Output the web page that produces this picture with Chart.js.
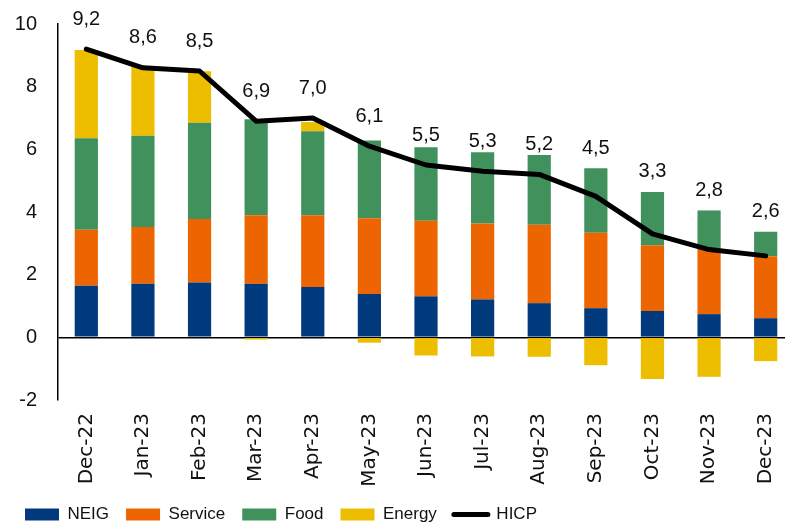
<!DOCTYPE html>
<html>
<head>
<meta charset="utf-8">
<script src="https://cdn.jsdelivr.net/npm/chart.js@4.4.1/dist/chart.umd.min.js"></script>
<style>
  html, body { margin: 0; padding: 0; background: #fff; overflow: hidden; }
  #wrap { position: relative; width: 800px; height: 533px; }
</style>
</head>
<body>
<div id="wrap"><canvas id="c"></canvas></div>
<script>
const categories = ['Dec-22','Jan-23','Feb-23','Mar-23','Apr-23','May-23','Jun-23','Jul-23','Aug-23','Sep-23','Oct-23','Nov-23','Dec-23'];
const neig    = [1.65, 1.71, 1.75, 1.71, 1.61, 1.38, 1.31, 1.21, 1.09, 0.93, 0.84, 0.74, 0.61];
const service = [1.78, 1.81, 2.03, 2.19, 2.29, 2.42, 2.41, 2.42, 2.50, 2.41, 2.10, 2.08, 1.98];
const food    = [2.92, 2.91, 3.07, 3.06, 2.68, 2.48, 2.35, 2.28, 2.23, 2.06, 1.70, 1.23, 0.78];
const energy  = [2.82, 2.21, 1.64, -0.07, 0.29, -0.17, -0.58, -0.61, -0.62, -0.89, -1.33, -1.26, -0.76];
const hicp    = [9.2, 8.6, 8.5, 6.9, 7.0, 6.1, 5.5, 5.3, 5.2, 4.5, 3.3, 2.8, 2.6];
const yTicks  = [-2, 0, 2, 4, 6, 8, 10];

const hFont = "'Liberation Sans', Arial, sans-serif";
const vFont = "'DejaVu Sans', sans-serif";

const labelPlugin = {
  id: 'hicpLabels',
  afterDatasetsDraw(chart) {
    const ctx = chart.ctx;
    const xs = chart.scales.x, ys = chart.scales.y;
    ctx.save();
    ctx.font = '20px ' + hFont;
    ctx.fillStyle = '#111';
    ctx.textAlign = 'center';
    ctx.textBaseline = 'middle';
    hicp.forEach((v, i) => {
      const pointY = ys.getPixelForValue(v);
      const pos = neig[i] + service[i] + food[i] + Math.max(energy[i], 0);
      const barTop = ys.getPixelForValue(pos);
      let y = pointY - 30;
      if (y + 7 > barTop) y = barTop - 20;
      ctx.fillText(v.toFixed(1).replace('.', ','), xs.getPixelForValue(i), y);
    });
    ctx.restore();
  }
};

const barCommon = { type: 'bar', stack: 'comp', borderWidth: 0, categoryPercentage: 1, barPercentage: 0.41 };

new Chart(document.getElementById('c'), {
  data: {
    labels: categories,
    datasets: [
      Object.assign({ label: 'NEIG', data: neig, backgroundColor: '#003A7C' }, barCommon),
      Object.assign({ label: 'Service', data: service, backgroundColor: '#EC6500' }, barCommon),
      Object.assign({ label: 'Food', data: food, backgroundColor: '#41915C' }, barCommon),
      Object.assign({ label: 'Energy', data: energy, backgroundColor: '#EDBE00' }, barCommon),
      { type: 'line', label: 'HICP', data: hicp, stack: 'hicp', order: -1,
        borderColor: '#000', borderWidth: 5, borderCapStyle: 'round', borderJoinStyle: 'round',
        pointRadius: 0, pointHoverRadius: 0, tension: 0, fill: false }
    ]
  },
  options: {
    responsive: true,
    maintainAspectRatio: false,
    animation: false,
    layout: { padding: { top: 24, left: 8, right: 6, bottom: 0 } },
    plugins: {
      tooltip: { enabled: false },
      legend: {
        position: 'bottom',
        align: 'start',
        labels: {
          font: { family: hFont, size: 17 },
          color: '#111',
          usePointStyle: true,
          pointStyleWidth: 34,
          boxWidth: 34,
          boxHeight: 12,
          padding: 17,
          sort: (a, b) => a.datasetIndex - b.datasetIndex,
          generateLabels: (chart) => {
            const items = Chart.defaults.plugins.legend.labels.generateLabels(chart);
            items.forEach(it => {
              if (it.datasetIndex === 4) {
                it.pointStyle = 'line'; it.lineWidth = 5; it.strokeStyle = '#000'; it.lineCap = 'round';
              } else {
                it.pointStyle = 'rect'; it.lineWidth = 0;
              }
            });
            return items;
          }
        }
      }
    },
    scales: {
      x: {
        stacked: true,
        offset: true,
        grid: { display: false },
        border: { display: false },
        ticks: {
          font: { family: vFont, size: 20 },
          color: '#111',
          minRotation: 90,
          maxRotation: 90,
          padding: 5,
          autoSkip: false
        },
        afterFit: s => { s.height = 89; }
      },
      y: {
        stacked: true,
        min: -2,
        max: 10,
        afterBuildTicks: s => { s.ticks = yTicks.map(v => ({ value: v })); },
        grid: {
          drawTicks: false,
          lineWidth: 1.5,
          color: c => (c.tick && c.tick.value === 0) ? '#000' : 'rgba(0,0,0,0)'
        },
        border: { display: true, color: '#000', width: 1.5 },
        ticks: {
          font: { family: hFont, size: 20 },
          color: '#111',
          padding: 21
        },
        afterFit: s => { s.width = 50; s.paddingTop = 0; s.paddingBottom = 0; }
      }
    }
  },
  plugins: [labelPlugin]
});
</script>
</body>
</html>
